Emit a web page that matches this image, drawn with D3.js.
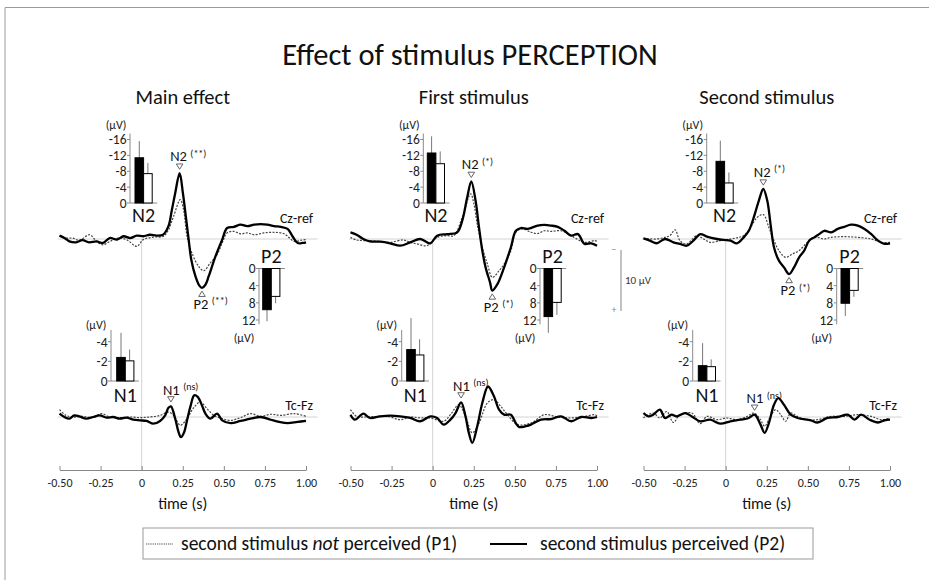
<!DOCTYPE html>
<html>
<head>
<meta charset="utf-8">
<script src="https://cdn.jsdelivr.net/npm/d3@7"></script>
<style>
  html, body { margin: 0; padding: 0; background: #fff; }
  svg { display: block; font-family: Carlito, Calibri, Lato, "Open Sans", sans-serif; }
</style>
</head>
<body>
<svg id="chart" width="929" height="580"></svg>
<script>
// ---------- data ----------
const panelTitles = ["Main effect", "First stimulus", "Second stimulus"];
const timeTicks = [-0.5, -0.25, 0, 0.25, 0.5, 0.75, 1.0];
const timeTickLabels = ["-0.50", "-0.25", "0", "0.25", "0.50", "0.75", "1.00"];
const channelNames = ["Cz-ref", "Tc-Fz"];
const legendLabels = ["second stimulus ", "not", " perceived (P1)", "second stimulus perceived (P2)"];

// ERP waveforms: [time (s), amplitude (µV)], negative up
const mainCzP1 = [[-0.5,-0.45],[-0.46,-0.15],[-0.42,-0.15],[-0.38,0.2],[-0.316,-0.7],[-0.275,0.4],[-0.235,0.95],[-0.194,0.4],[-0.143,-0.15],[-0.092,0.1],[-0.03,1.2],[0.01,0.1],[0.07,-0.3],[0.133,-0.45],[0.163,-1.5],[0.194,-3.7],[0.235,-6.45],[0.255,-4.8],[0.276,-0.45],[0.306,2.3],[0.347,4.5],[0.378,5.2],[0.418,3.9],[0.459,2.55],[0.49,0.65],[0.52,-1.0],[0.561,-1.25],[0.602,-0.85],[0.643,-1.0],[0.684,-0.7],[0.745,-1.0],[0.806,-1.1],[0.867,-0.85],[0.929,0.4],[0.97,0.2],[1.0,0.1]];
const mainCzP2 = [[-0.5,-0.55],[-0.47,-0.16],[-0.44,0.38],[-0.4,0.55],[-0.36,0.2],[-0.32,0.55],[-0.275,0.4],[-0.235,0.65],[-0.195,-0.16],[-0.15,0.1],[-0.11,-0.45],[-0.07,-0.15],[-0.03,-0.55],[0.01,-0.45],[0.05,-0.7],[0.09,-0.55],[0.13,-0.7],[0.163,-2.1],[0.184,-4.8],[0.204,-7.5],[0.231,-10.8],[0.251,-7.5],[0.271,-3.2],[0.286,0.1],[0.302,3.4],[0.327,6.1],[0.351,7.65],[0.367,8.0],[0.388,7.5],[0.408,6.1],[0.449,2.85],[0.49,0.1],[0.52,-1.8],[0.561,-2.0],[0.602,-2.35],[0.643,-2.1],[0.684,-2.35],[0.724,-2.45],[0.765,-2.35],[0.806,-2.1],[0.847,-2.0],[0.888,-1.65],[0.918,-0.45],[0.949,0.65],[0.98,0.65],[1.0,0.55]];
const mainTcP1 = [[-0.5,-1.2],[-0.46,-0.27],[-0.42,0],[-0.357,-0.1],[-0.296,0.1],[-0.245,-0.55],[-0.194,0],[-0.133,0.1],[-0.071,0],[-0.01,0.1],[0.05,0],[0.112,-0.27],[0.163,-0.8],[0.194,-0.27],[0.235,1.35],[0.276,0.27],[0.316,-1.5],[0.357,-2.45],[0.398,-1.35],[0.439,-0.27],[0.49,0.27],[0.541,0.55],[0.602,0.1],[0.663,-0.55],[0.724,-0.1],[0.786,-0.45],[0.847,-0.27],[0.929,-0.55],[1.0,-0.1]];
const mainTcP2 = [[-0.5,-0.55],[-0.47,0],[-0.44,0.27],[-0.41,-0.27],[-0.38,-0.1],[-0.337,0.27],[-0.296,0],[-0.255,-0.27],[-0.214,0.1],[-0.173,0],[-0.133,0.27],[-0.092,0.1],[-0.05,0.45],[-0.01,0.55],[0.03,0.65],[0.071,1.1],[0.112,0.65],[0.143,-0.27],[0.163,-1.5],[0.178,-1.75],[0.204,0.27],[0.224,2.45],[0.239,3.3],[0.259,2.45],[0.276,0.55],[0.296,-1.65],[0.32,-3.55],[0.341,-3.3],[0.367,-1.9],[0.388,-0.55],[0.418,0.27],[0.459,-0.55],[0.49,0.55],[0.541,1.0],[0.602,0.65],[0.663,0.27],[0.724,0],[0.786,0.45],[0.837,0.8],[0.888,1.0],[0.949,0.8],[1.0,0.65]];

const firstCzP1 = [[-0.5,-0.27],[-0.463,0.16],[-0.402,0.27],[-0.32,0.38],[-0.259,0.55],[-0.178,0.16],[-0.137,0.55],[-0.096,0.8],[-0.035,1.1],[0.027,-0.27],[0.088,-0.55],[0.129,-0.55],[0.18,-3.55],[0.231,-7.4],[0.251,-5.75],[0.271,-2.45],[0.302,1.35],[0.333,4.1],[0.363,6.3],[0.404,5.2],[0.435,4.1],[0.476,1.9],[0.506,-1.1],[0.547,-1.65],[0.598,-1.1],[0.639,-0.9],[0.68,-1.35],[0.72,-1.25],[0.782,-1.35],[0.843,-0.55],[0.924,0.55],[0.986,0.27],[1.0,0.38]];
const firstCzP2 = [[-0.5,-1.1],[-0.463,-0.7],[-0.422,0],[-0.382,0.38],[-0.32,0.44],[-0.259,0.7],[-0.198,1.1],[-0.137,0.55],[-0.076,0],[-0.014,0.7],[0.027,-0.55],[0.088,-0.8],[0.149,-1.1],[0.18,-3.0],[0.21,-6.8],[0.235,-9.45],[0.261,-6.3],[0.282,-1.9],[0.302,1.9],[0.322,4.65],[0.349,7.1],[0.363,8.45],[0.394,7.4],[0.435,4.65],[0.476,1.35],[0.506,-1.35],[0.537,-1.8],[0.578,-1.65],[0.639,-2.2],[0.68,-2.3],[0.72,-2.2],[0.761,-2.0],[0.802,-1.35],[0.843,-0.55],[0.884,-0.8],[0.924,0.8],[0.965,0.7],[1.0,1.1]];
const firstTcP1 = [[-0.5,-1.2],[-0.463,-0.1],[-0.402,0],[-0.32,-0.1],[-0.259,0],[-0.198,0.44],[-0.137,0],[-0.076,0.16],[-0.014,0.16],[0.067,0.7],[0.108,-0.38],[0.159,-2.0],[0.2,-0.1],[0.241,2.6],[0.282,1.0],[0.333,-2.3],[0.373,-2.85],[0.414,-1.75],[0.455,-0.38],[0.516,1.25],[0.598,1.0],[0.68,-0.38],[0.761,0],[0.843,0.16],[0.924,-0.1],[0.986,-0.38],[1.0,-0.22]];
const firstTcP2 = [[-0.5,-0.38],[-0.473,0.44],[-0.422,-0.55],[-0.382,0.16],[-0.32,-0.1],[-0.259,-0.22],[-0.198,-0.1],[-0.137,0.16],[-0.076,0.7],[-0.014,-0.1],[0.027,0.16],[0.067,1.25],[0.108,0.44],[0.139,-0.65],[0.173,-2.4],[0.2,-0.1],[0.22,2.6],[0.241,4.25],[0.271,1.55],[0.302,-2.3],[0.337,-5.0],[0.373,-3.4],[0.404,-1.2],[0.435,-0.38],[0.476,-0.38],[0.506,1.0],[0.527,1.65],[0.567,1.5],[0.598,1.25],[0.659,0.44],[0.72,0.33],[0.782,-0.1],[0.843,0.7],[0.904,0],[0.965,0.16],[1.0,0]];

const secondCzP1 = [[-0.5,-0.1],[-0.42,0],[-0.369,-0.27],[-0.339,-0.55],[-0.308,-1.5],[-0.278,0.27],[-0.237,0.8],[-0.176,-0.55],[-0.135,0],[-0.094,0.55],[-0.033,0.27],[0.029,0],[0.08,-0.27],[0.11,-0.55],[0.151,-1.9],[0.192,-3.55],[0.229,-4.0],[0.263,-1.9],[0.294,0.27],[0.324,1.9],[0.365,3.0],[0.406,2.45],[0.447,1.9],[0.488,0.8],[0.518,0],[0.559,-0.27],[0.6,0],[0.641,-0.27],[0.722,-0.38],[0.804,-0.27],[0.886,0],[0.947,0.55],[1.0,0.55]];
const secondCzP2 = [[-0.5,-0.1],[-0.461,0.27],[-0.42,0.7],[-0.369,0],[-0.318,0.55],[-0.278,0.8],[-0.237,1.1],[-0.196,0.27],[-0.155,-0.8],[-0.114,-0.38],[-0.053,0],[-0.012,0.16],[0.029,0.27],[0.069,0.7],[0.11,-0.27],[0.141,-1.35],[0.171,-3.55],[0.202,-6.3],[0.229,-8.2],[0.253,-6.3],[0.273,-2.45],[0.294,1.35],[0.324,3.55],[0.355,4.65],[0.386,5.75],[0.416,4.65],[0.447,3.0],[0.478,1.9],[0.508,0.27],[0.539,-0.27],[0.569,-0.8],[0.6,-1.35],[0.641,-1.1],[0.682,-1.65],[0.722,-2.0],[0.763,-2.35],[0.804,-2.2],[0.845,-1.65],[0.886,-0.8],[0.927,0.27],[0.967,0.8],[1.0,0.7]];
const secondTcP1 = [[-0.5,0.16],[-0.441,-0.65],[-0.4,0.16],[-0.359,-0.9],[-0.318,0.9],[-0.278,-0.38],[-0.206,-0.65],[-0.155,1.1],[-0.114,-0.1],[-0.053,0.44],[0.008,0.16],[0.069,0.44],[0.131,-0.1],[0.171,-0.65],[0.212,0.44],[0.237,1.5],[0.273,-0.1],[0.304,-1.2],[0.335,-0.38],[0.365,0.7],[0.396,-0.65],[0.437,-0.1],[0.498,0.44],[0.559,0.44],[0.641,-0.1],[0.722,-0.1],[0.804,-0.38],[0.886,-0.1],[0.947,0.44],[1.0,0.16]];
const secondTcP2 = [[-0.5,-0.65],[-0.471,-0.1],[-0.441,-0.38],[-0.4,-1.2],[-0.369,0.16],[-0.329,-0.38],[-0.298,-0.1],[-0.247,-0.65],[-0.206,-0.1],[-0.155,0.7],[-0.094,0.44],[-0.033,1.1],[0.029,0.7],[0.09,0.44],[0.141,0.16],[0.176,-0.38],[0.212,1.25],[0.237,2.6],[0.263,1.0],[0.294,-2.0],[0.32,-3.1],[0.355,-2.0],[0.396,-0.38],[0.437,0.16],[0.518,0.55],[0.559,0.9],[0.62,0.16],[0.682,0],[0.743,-0.38],[0.784,0.44],[0.824,-0.38],[0.876,0.44],[0.927,0.9],[0.967,0.55],[1.0,0.44]];

// Component amplitudes (µV): perceived (black) / not perceived (white), with error-bar tips
const n2Perceived      = [-11.4, -12.6, -10.5];
const n2PerceivedTip   = [-15.6, -16.8, -15.7];
const n2NotPerceived   = [-7.4,  -9.9,  -5.05];
const n2NotPerceivedTip= [-10.1, -13.0, -7.7];
const p2Perceived      = [9.6, 11.2, 8.1];
const p2PerceivedTip   = [12.3, 15.0, 11.1];
const p2NotPerceived   = [6.5, 7.9, 5.1];
const p2NotPerceivedTip= [8.1, 10.8, 6.6];
const n1Perceived      = [-2.4, -3.2, -1.56];
const n1PerceivedTip   = [-4.9, -6.4, -3.85];
const n1NotPerceived   = [-2.05, -2.65, -1.46];
const n1NotPerceivedTip= [-3.2, -4.25, -2.2];

const n2Ticks = [0, -4, -8, -12, -16];
const p2Ticks = [0, 4, 8, 12];
const n1Ticks = [0, -2, -4];
const n2Sig = ["(**)", "(*)", "(*)"];
const p2Sig = ["(**)", "(*)", "(*)"];
const n1Sig = ["(ns)", "(ns)", "(ns)"];

const waves = [
  { cz: [mainCzP1, mainCzP2],     tc: [mainTcP1, mainTcP2] },
  { cz: [firstCzP1, firstCzP2],   tc: [firstTcP1, firstTcP2] },
  { cz: [secondCzP1, secondCzP2], tc: [secondTcP1, secondTcP2] }
];

// ---------- layout ----------
const layout = [
  { x0: 59.5,  x1: 306, n2: {ax: 130,   bx: 135},   p2: {ax: 259,   bx: 262.7}, n1: {ax: 111,   bx: 116.7} },
  { x0: 350.5, x1: 597, n2: {ax: 423.3, bx: 427.3}, p2: {ax: 540,   bx: 544},   n1: {ax: 401.7, bx: 406.7} },
  { x0: 643.5, x1: 890, n2: {ax: 706.7, bx: 716},   p2: {ax: 836.7, bx: 841},   n1: {ax: 692.7, bx: 698.3} }
];
const czBase = 239, tcBase = 417, axisY = 470;
const pxPerMicroV = 6.1;

const svg = d3.select("#chart");
const FONT = 'Carlito, Calibri, Lato, "Open Sans", sans-serif';

// frame
svg.append("path").attr("d", "M5,580 V7.5 H929").attr("fill", "none").attr("stroke", "#9a9a9a").attr("stroke-width", 1);

svg.append("text").attr("x", 470).attr("y", 65).attr("text-anchor", "middle")
  .attr("font-size", 30.5).attr("fill", "#111").text("Effect of stimulus PERCEPTION");

const curve = d3.curveCatmullRom.alpha(0.5);

function drawInset(g, cfg, ticks, domainTop, yDomain, yRange, vals, tips, name, namePos) {
  const y = d3.scaleLinear().domain(yDomain).range(yRange);
  const bw = 8.6;
  const bx = d3.scaleBand().domain([0, 1]).range([cfg.bx, cfg.bx + 2 * bw]).padding(0);
  g.append("line").attr("x1", cfg.ax).attr("x2", cfg.ax).attr("y1", y(0)).attr("y2", y(domainTop))
    .attr("stroke", "#8a8a8a").attr("stroke-width", 1);
  g.append("line").attr("x1", cfg.ax).attr("x2", cfg.bx + 2 * bw + 5).attr("y1", y(0)).attr("y2", y(0))
    .attr("stroke", "#8a8a8a").attr("stroke-width", 1);
  ticks.forEach(t => {
    g.append("line").attr("x1", cfg.ax - 3).attr("x2", cfg.ax).attr("y1", y(t)).attr("y2", y(t))
      .attr("stroke", "#8a8a8a");
    g.append("text").attr("x", cfg.ax - 3.5).attr("y", y(t)).attr("dy", "0.36em")
      .attr("text-anchor", "end").attr("font-size", 13.5).attr("fill", "#222").text(t);
  });
  [0, 1].forEach(i => {
    const cx = bx(i) + bw / 2;
    g.append("line").attr("x1", cx).attr("x2", cx).attr("y1", y(vals[i])).attr("y2", y(tips[i]))
      .attr("stroke", "#777").attr("stroke-width", 1);
    const top = Math.min(y(0), y(vals[i])), h = Math.abs(y(vals[i]) - y(0));
    g.append("rect").attr("x", bx(i)).attr("y", top).attr("width", bw).attr("height", h)
      .attr("fill", i === 0 ? "#000" : "#fff").attr("stroke", "#000").attr("stroke-width", 1);
  });
  g.append("text").attr("x", cfg.bx + bw).attr("y", namePos).attr("text-anchor", "middle")
    .attr("font-size", 20).attr("fill", "#111").text(name);
  return y;
}

function peakMarker(g, x, y, down) {
  const s = 3.3;
  const pts = down ? [[x - s, y - s * 0.8], [x + s, y - s * 0.8], [x, y + s * 0.8]]
                   : [[x - s, y + s * 0.8], [x + s, y + s * 0.8], [x, y - s * 0.8]];
  g.append("path").attr("d", "M" + pts.map(p => p.join(",")).join("L") + "Z")
    .attr("fill", "#fff").attr("stroke", "#555").attr("stroke-width", 0.9);
}

function peakLabel(g, x, y, name, sig) {
  const t = g.append("text").attr("x", x).attr("y", y).attr("font-size", 14.5).attr("fill", "#111");
  t.append("tspan").text(name);
  t.append("tspan").attr("dx", 3.5).attr("dy", -4.5).attr("font-size", 10).text(sig);
}

layout.forEach((L, p) => {
  const g = svg.append("g");
  const x = d3.scaleLinear().domain([-0.5, 1.0]).range([L.x0, L.x1]);
  const yCz = d3.scaleLinear().domain([0, 10]).range([czBase, czBase + 10 * pxPerMicroV]);
  const yTc = d3.scaleLinear().domain([0, 10]).range([tcBase, tcBase + 10 * pxPerMicroV]);

  g.append("text").attr("x", (L.x0 + L.x1) / 2).attr("y", 104).attr("text-anchor", "middle")
    .attr("font-size", 20.5).attr("fill", "#111").text(panelTitles[p]);

  g.append("line").attr("x1", x(0)).attr("x2", x(0)).attr("y1", czBase).attr("y2", axisY)
    .attr("stroke", "#d4d4d4").attr("stroke-width", 1);
  [czBase, tcBase].forEach(b => {
    g.append("line").attr("x1", x(-0.51)).attr("x2", x(1.07)).attr("y1", b).attr("y2", b)
      .attr("stroke", "#d4d4d4").attr("stroke-width", 1);
  });

  const ax = g.append("g").attr("transform", `translate(0,${axisY})`)
    .call(d3.axisBottom(x).tickValues(timeTicks).tickFormat((d, i) => timeTickLabels[i])
      .tickSizeInner(-4).tickSizeOuter(0).tickPadding(8));
  ax.select(".domain").attr("stroke", "#888");
  ax.selectAll(".tick line").attr("stroke", "#888");
  ax.selectAll(".tick text").attr("font-size", 12).attr("font-family", FONT).attr("fill", "#222");
  g.append("text").attr("x", (L.x0 + L.x1) / 2).attr("y", 509).attr("text-anchor", "middle")
    .attr("font-size", 16).attr("fill", "#111").text("time (s)");

  const W = waves[p];
  [[W.cz, yCz], [W.tc, yTc]].forEach(([pair, y]) => {
    const line = d3.line().x(d => x(d[0])).y(d => y(d[1])).curve(curve);
    g.append("path").datum(pair[0]).attr("d", line).attr("fill", "none")
      .attr("stroke", "#444").attr("stroke-width", 1.2).attr("stroke-dasharray", "2,1.4");
    g.append("path").datum(pair[1]).attr("d", line).attr("fill", "none")
      .attr("stroke", "#000").attr("stroke-width", 2.3).attr("stroke-linejoin", "round");
  });

  g.append("text").attr("x", L.x1 + 7).attr("y", czBase - 16).attr("text-anchor", "end")
    .attr("font-size", 14).attr("fill", "#111").text(channelNames[0]);
  g.append("text").attr("x", L.x1 + 7).attr("y", tcBase - 7).attr("text-anchor", "end")
    .attr("font-size", 14).attr("fill", "#111").text(channelNames[1]);

  // peak markers, located on the perceived waveform
  const inWin = (arr, a, b) => arr.filter(d => d[0] >= a && d[0] <= b);
  const n2Pk = d3.least(inWin(W.cz[1], 0.1, 0.3), d => d[1]);
  const p2Pk = d3.greatest(inWin(W.cz[1], 0.28, 0.5), d => d[1]);
  const n1Pk = d3.least(inWin(W.tc[1], 0.12, 0.2), d => d[1]);
  let tx = x(n2Pk[0]), ty = yCz(n2Pk[1]) - 6.5;
  peakMarker(g, tx, ty, true);
  peakLabel(g, tx - 9.5, ty - 5.5, "N2", n2Sig[p]);
  tx = x(p2Pk[0]); ty = yCz(p2Pk[1]) + 6;
  peakMarker(g, tx, ty, false);
  peakLabel(g, tx - 8.5, ty + 15, "P2", p2Sig[p]);
  tx = x(n1Pk[0]); ty = yTc(n1Pk[1]) - 7;
  peakMarker(g, tx, ty, true);
  peakLabel(g, tx - 8, ty - 4.5, "N1", n1Sig[p]);

  // bar insets
  drawInset(g, L.n2, n2Ticks, -17.5, [0, -16], [203, 139.5],
    [n2Perceived[p], n2NotPerceived[p]], [n2PerceivedTip[p], n2NotPerceivedTip[p]], "N2", 222);
  g.append("text").attr("x", L.n2.ax - 14).attr("y", 129).attr("text-anchor", "middle")
    .attr("font-size", 12).attr("fill", "#222").text("(µV)");
  drawInset(g, L.p2, p2Ticks, 13, [0, 12], [268.5, 320],
    [p2Perceived[p], p2NotPerceived[p]], [p2PerceivedTip[p], p2NotPerceivedTip[p]], "P2", 263);
  g.append("text").attr("x", L.p2.ax - 15).attr("y", 342).attr("text-anchor", "middle")
    .attr("font-size", 12).attr("fill", "#222").text("(µV)");
  drawInset(g, L.n1, n1Ticks, -5.2, [0, -4], [381, 341.7],
    [n1Perceived[p], n1NotPerceived[p]], [n1PerceivedTip[p], n1NotPerceivedTip[p]], "N1", 402);
  g.append("text").attr("x", L.n1.ax - 15).attr("y", 329).attr("text-anchor", "middle")
    .attr("font-size", 12).attr("fill", "#222").text("(µV)");
});

// amplitude scale bar (10 µV)
const sb = svg.append("g");
const sbTop = 250, sbLen = 10 * pxPerMicroV;
sb.append("line").attr("x1", 621).attr("x2", 621).attr("y1", sbTop).attr("y2", sbTop + sbLen)
  .attr("stroke", "#999").attr("stroke-width", 1.2);
sb.append("text").attr("x", 614).attr("y", sbTop + 3).attr("text-anchor", "middle")
  .attr("font-size", 10).attr("fill", "#888").text("−");
sb.append("text").attr("x", 614).attr("y", sbTop + sbLen + 2).attr("text-anchor", "middle")
  .attr("font-size", 10).attr("fill", "#888").text("+");
sb.append("text").attr("x", 625).attr("y", sbTop + sbLen / 2 + 3).attr("font-size", 11)
  .attr("fill", "#333").text("10 µV");

// legend
const lg = svg.append("g");
lg.append("rect").attr("x", 143).attr("y", 528).attr("width", 670).attr("height", 31)
  .attr("fill", "#fff").attr("stroke", "#999").attr("stroke-width", 1);
lg.append("line").attr("x1", 146).attr("x2", 173).attr("y1", 544).attr("y2", 544)
  .attr("stroke", "#444").attr("stroke-width", 1).attr("stroke-dasharray", "1.2,1");
const lt = lg.append("text").attr("x", 181).attr("y", 550).attr("font-size", 19.5).attr("fill", "#111");
lt.append("tspan").text(legendLabels[0]);
lt.append("tspan").attr("font-style", "italic").text(legendLabels[1]);
lt.append("tspan").text(legendLabels[2]);
lg.append("line").attr("x1", 490).attr("x2", 527).attr("y1", 544).attr("y2", 544)
  .attr("stroke", "#000").attr("stroke-width", 2.2);
lg.append("text").attr("x", 540).attr("y", 550).attr("font-size", 19.5).attr("fill", "#111")
  .text(legendLabels[3]);
</script>
</body>
</html>
